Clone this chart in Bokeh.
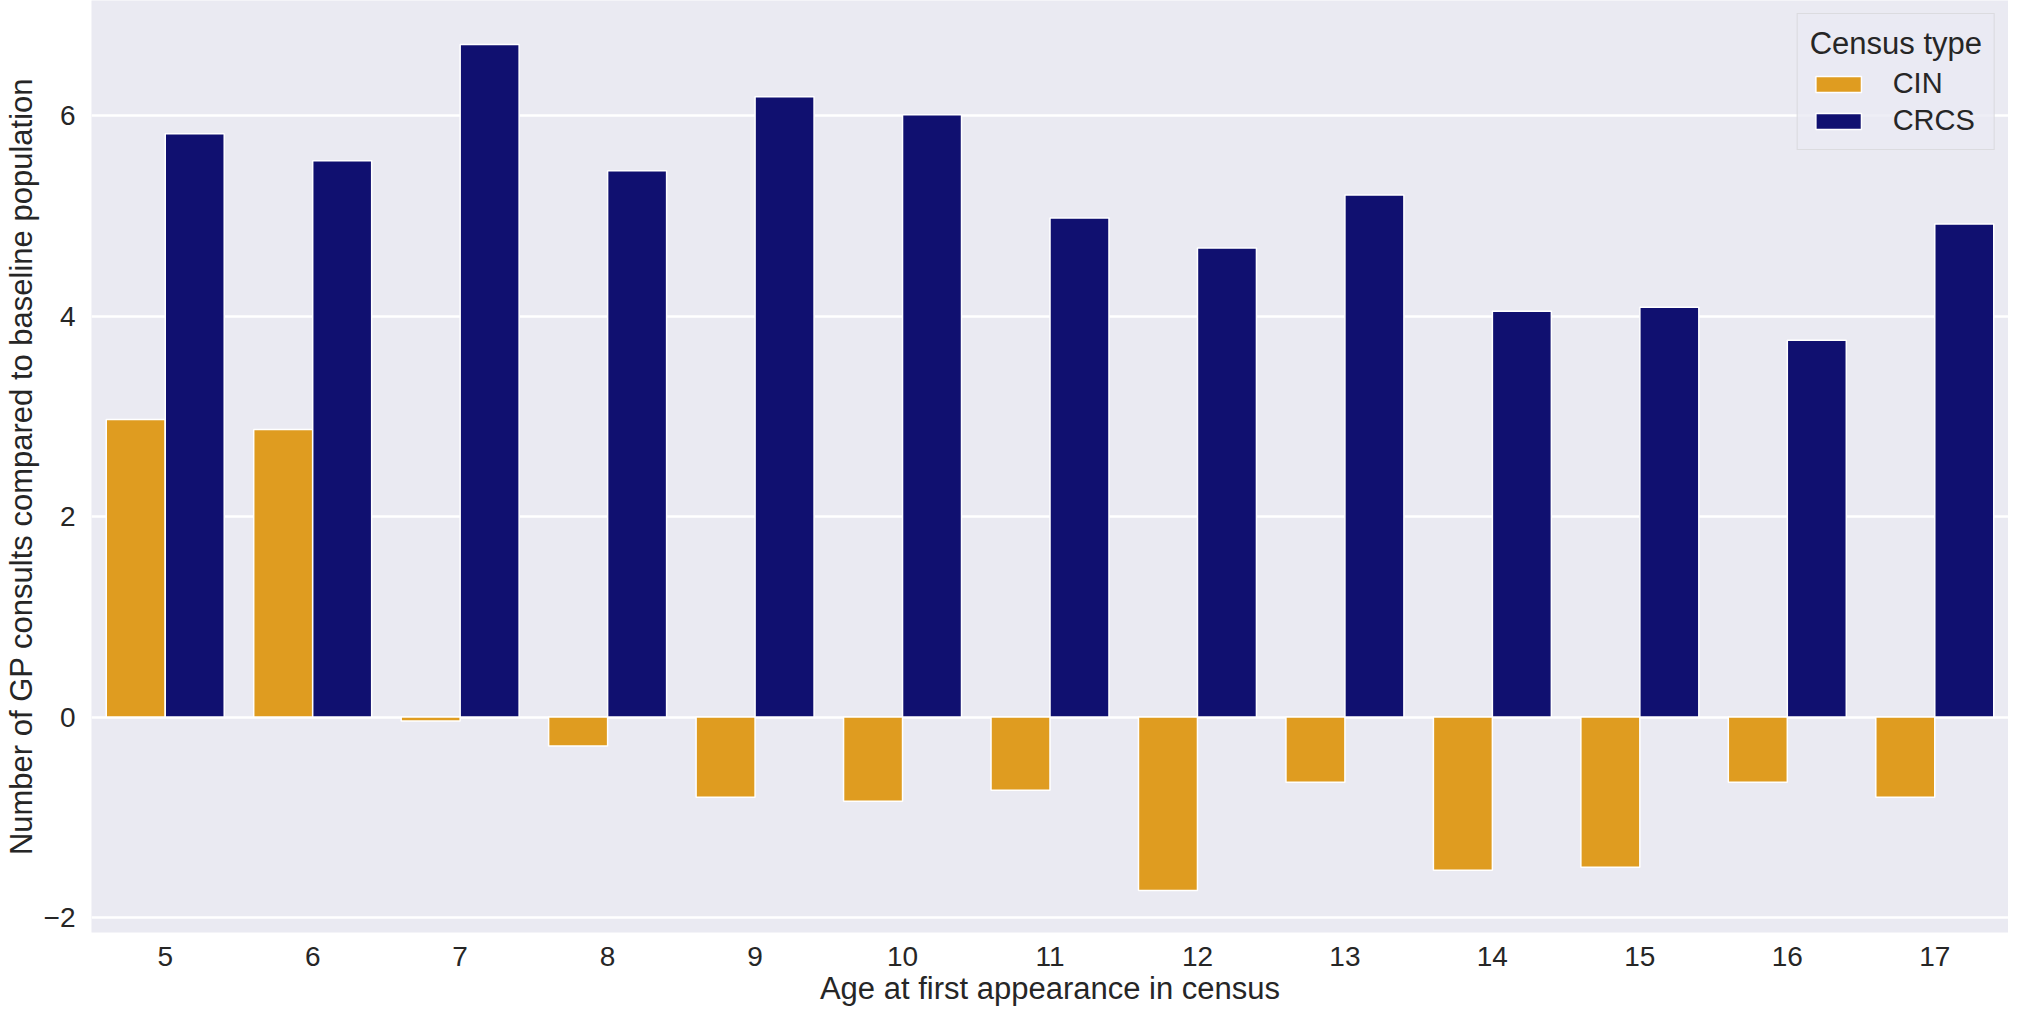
from bokeh.plotting import figure
from bokeh.models import FactorRange, Range1d, FixedTicker, ColumnDataSource
from bokeh.transform import dodge
from bokeh.embed import file_html
from bokeh.resources import INLINE

ages = ["5", "6", "7", "8", "9", "10", "11", "12", "13", "14", "15", "16", "17"]
cin = [2.97, 2.87, -0.04, -0.29, -0.80, -0.84, -0.73, -1.73, -0.65, -1.53, -1.50, -0.65, -0.80]
crcs = [5.82, 5.55, 6.71, 5.45, 6.19, 6.01, 4.98, 4.68, 5.21, 4.05, 4.09, 3.76, 4.92]
series_names = ["CIN", "CRCS"]
colors = ["#DF9C20", "#101070"]
y_ticks = [-2, 0, 2, 4, 6]

src = ColumnDataSource(dict(age=ages, CIN=cin, CRCS=crcs))

FONT = "Liberation Sans"
p = figure(width=2008, height=1008, x_range=FactorRange(*ages, range_padding=0),
           y_range=Range1d(-2.15, 7.15), output_backend="svg", toolbar_location=None,
           min_border_left=80, min_border_right=0, min_border_top=0, min_border_bottom=60)

p.background_fill_color = "#EAEAF2"
p.border_fill_color = "white"
p.outline_line_color = None

for i, (name, col) in enumerate(zip(series_names, colors)):
    p.vbar(x=dodge("age", -0.2 + 0.4 * i, range=p.x_range), top=name, bottom=0, width=0.4,
           source=src, fill_color=col, line_color="white", line_width=1.5, legend_label=name)

p.xgrid.grid_line_color = None
p.ygrid.grid_line_color = "white"
p.ygrid.grid_line_width = 2.5
p.ygrid.ticker = FixedTicker(ticks=y_ticks)

p.yaxis.ticker = FixedTicker(ticks=y_ticks)
p.yaxis.major_label_overrides = {-2: "\u22122"}

for ax in (p.xaxis[0], p.yaxis[0]):
    ax.axis_line_color = None
    ax.major_tick_line_color = None
    ax.minor_tick_line_color = None
    ax.major_tick_in = 0
    ax.major_tick_out = 0
    ax.minor_tick_in = 0
    ax.minor_tick_out = 0
    ax.major_label_text_font = FONT
    ax.major_label_text_font_size = "28px"
    ax.major_label_text_color = "#262626"
    ax.axis_label_text_font = FONT
    ax.axis_label_text_font_size = "31px"
    ax.axis_label_text_font_style = "normal"
    ax.axis_label_text_color = "#262626"

p.xaxis.major_label_standoff = 14
p.yaxis.major_label_standoff = 16
p.xaxis.axis_label = "Age at first appearance in census"
p.yaxis.axis_label = "Number of GP consults compared to baseline population"
p.xaxis.axis_label_standoff = 2
p.yaxis.axis_label_standoff = 2

lg = p.legend[0]
lg.title = "Census type"
lg.title_text_font = FONT
lg.title_text_font_size = "31px"
lg.title_text_font_style = "normal"
lg.title_text_color = "#262626"
lg.label_text_font = FONT
lg.label_text_font_size = "29px"
lg.label_text_color = "#262626"
lg.location = "top_right"
lg.margin = 13
lg.padding = 12
lg.spacing = 4
lg.glyph_width = 57
lg.glyph_height = 20
lg.label_standoff = 26
lg.background_fill_color = "#EAEAF2"
lg.background_fill_alpha = 0.8
lg.border_line_color = "#CCCCCC"
lg.border_line_width = 1.5

open("out.html", "w").write(file_html(p, INLINE))
